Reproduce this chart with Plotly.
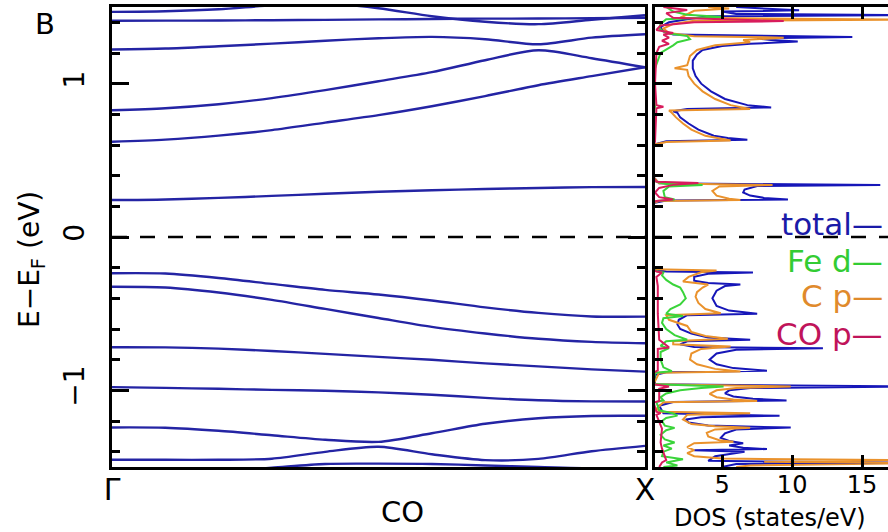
import plotly.graph_objects as go

# ---------------- band structure (Gamma -> X) ----------------
k_nodes = [0.0, 0.1, 0.2, 0.3, 0.4, 0.5, 0.6, 0.7, 0.8, 0.9, 1.0]
k_labels = ["Γ", "X"]

band_A = [1.468, 1.472, 1.485, 1.511, 1.524, 1.492, 1.440, 1.404, 1.388, 1.417, 1.446]
band_B = [1.410, 1.411, 1.412, 1.414, 1.416, 1.419, 1.422, 1.424, 1.425, 1.427, 1.430]
band_C = [1.223, 1.229, 1.244, 1.261, 1.280, 1.296, 1.305, 1.290, 1.257, 1.300, 1.322]
band_D = [0.827, 0.840, 0.866, 0.906, 0.958, 1.016, 1.075, 1.153, 1.218, 1.166, 1.107]
band_E = [0.621, 0.635, 0.661, 0.697, 0.746, 0.795, 0.853, 0.919, 0.990, 1.049, 1.107]
band_F = [0.241, 0.245, 0.255, 0.268, 0.282, 0.295, 0.305, 0.313, 0.320, 0.325, 0.326]
band_G = [-0.236, -0.238, -0.267, -0.306, -0.345, -0.375, -0.414, -0.459, -0.495, -0.518, -0.519]
band_H = [-0.324, -0.329, -0.362, -0.410, -0.469, -0.528, -0.586, -0.629, -0.664, -0.684, -0.693]
band_I = [-0.719, -0.720, -0.728, -0.743, -0.762, -0.782, -0.801, -0.824, -0.844, -0.863, -0.878]
band_J = [-0.979, -0.984, -0.990, -0.997, -1.003, -1.013, -1.029, -1.049, -1.065, -1.072, -1.073]
band_K = [-1.242, -1.244, -1.264, -1.293, -1.322, -1.336, -1.280, -1.218, -1.182, -1.167, -1.166]
band_L = [-1.453, -1.453, -1.453, -1.446, -1.401, -1.368, -1.417, -1.455, -1.447, -1.397, -1.362]
band_M = [-1.560, -1.550, -1.530, -1.505, -1.480, -1.478, -1.480, -1.490, -1.500, -1.510, -1.530]

# ---------------- density of states ----------------
total_E = [1.50, 1.49, 1.478, 1.47, 1.455, 1.447, 1.44, 1.42, 1.40, 1.37,
           1.34, 1.32, 1.305, 1.295, 1.285, 1.275, 1.26, 1.245, 1.22, 1.19,
           1.15, 1.10, 1.05, 1.00, 0.95, 0.90, 0.86, 0.845, 0.835, 0.82,
           0.81, 0.78, 0.74, 0.70, 0.66, 0.645, 0.635, 0.625, 0.60, 0.40,
           0.35, 0.339, 0.333, 0.31, 0.29, 0.27, 0.255, 0.245, 0.238, 0.22,
           -0.21, -0.225, -0.232, -0.24, -0.26, -0.285, -0.30, -0.31, -0.32, -0.35,
           -0.40, -0.45, -0.48, -0.50, -0.51, -0.54, -0.57, -0.60, -0.63, -0.655,
           -0.67, -0.68, -0.70, -0.718, -0.725, -0.735, -0.76, -0.80, -0.83, -0.855,
           -0.872, -0.882, -0.90, -0.96, -0.975, -0.985, -1.00, -1.02, -1.04, -1.055,
           -1.066, -1.076, -1.10, -1.15, -1.166, -1.175, -1.19, -1.21, -1.23, -1.243,
           -1.255, -1.28, -1.31, -1.33, -1.345, -1.36, -1.375, -1.383, -1.39, -1.40,
           -1.43, -1.46, -1.472, -1.48, -1.50]
total_D = [6.0, 8.0, 10.5, 5.0, 6.0, 18.0, 4.0, 2.5, 1.2, 0.6,
           0.8, 1.5, 14.3, 7.5, 8.5, 10.4, 7.0, 5.0, 3.6, 3.2,
           2.9, 2.9, 3.1, 3.5, 4.2, 5.2, 6.8, 8.5, 2.5, 1.5,
           1.8, 2.0, 2.6, 3.3, 4.4, 5.4, 6.8, 1.0, 0.0, 0.0,
           0.5, 16.3, 7.5, 6.6, 6.5, 7.0, 8.0, 9.7, 1.0, 0.0,
           0.0, 1.0, 7.2, 4.0, 3.0, 3.0, 4.0, 6.3, 5.2, 4.6,
           4.3, 4.6, 5.5, 7.5, 2.5, 1.9, 1.8, 2.0, 2.8, 4.0,
           7.0, 2.5, 2.0, 3.0, 12.2, 6.0, 4.6, 4.1, 4.6, 5.8,
           8.2, 1.0, 0.2, 0.2, 18.0, 7.0, 5.5, 5.2, 5.8, 7.2,
           9.6, 1.5, 0.5, 0.8, 9.1, 3.5, 2.4, 2.6, 4.0, 9.9,
           6.0, 5.2, 4.9, 5.5, 6.5, 5.5, 6.5, 8.2, 3.0, 6.6,
           4.5, 4.0, 18.0, 6.0, 5.0]

fed_E = [1.50, 1.47, 1.45, 1.435, 1.42, 1.39, 1.36, 1.33, 1.31, 1.29,
         1.27, 1.25, 1.20, 1.10, 0.95, 0.85, 0.80, 0.70, 0.63, 0.60,
         0.40, 0.36, 0.345, 0.339, 0.33, 0.30, 0.26, 0.245, 0.235, 0.22,
         -0.21, -0.225, -0.232, -0.25, -0.28, -0.31, -0.33, -0.36, -0.40, -0.44,
         -0.47, -0.50, -0.515, -0.53, -0.56, -0.60, -0.64, -0.67, -0.68, -0.71,
         -0.725, -0.75, -0.80, -0.85, -0.875, -0.885, -0.96, -0.975, -0.985, -1.00,
         -1.02, -1.045, -1.065, -1.076, -1.13, -1.15, -1.165, -1.18, -1.20, -1.23,
         -1.245, -1.26, -1.29, -1.32, -1.34, -1.36, -1.38, -1.40, -1.43, -1.45,
         -1.47, -1.49, -1.50]
fed_D = [1.0, 1.5, 2.5, 5.0, 1.0, 0.6, 0.5, 1.0, 2.5, 2.7,
         1.8, 1.5, 0.6, 0.2, 0.1, 0.2, 0.1, 0.1, 0.2, 0.0,
         0.0, 0.3, 1.0, 3.6, 1.2, 0.8, 0.9, 1.6, 0.3, 0.0,
         0.0, 0.4, 0.8, 0.7, 1.0, 1.5, 2.0, 2.2, 2.4, 2.0,
         1.3, 1.0, 2.2, 0.8, 0.7, 1.0, 1.6, 2.5, 1.0, 0.6,
         1.2, 0.6, 0.6, 0.8, 1.4, 0.2, 0.1, 5.1, 3.5, 2.0,
         1.0, 0.6, 0.8, 0.3, 0.5, 1.5, 1.8, 1.0, 0.7, 0.9,
         1.6, 1.0, 0.6, 0.9, 1.6, 0.8, 1.4, 0.8, 0.7, 2.2,
         1.0, 1.8, 0.8]

cp_E = [1.50, 1.49, 1.475, 1.45, 1.43, 1.418, 1.41, 1.39, 1.36, 1.33,
        1.31, 1.30, 1.285, 1.27, 1.25, 1.22, 1.18, 1.15, 1.12, 1.10,
        1.09, 1.05, 1.00, 0.95, 0.90, 0.86, 0.835, 0.825, 0.81, 0.78,
        0.74, 0.70, 0.66, 0.63, 0.62, 0.60, 0.40, 0.35, 0.339, 0.33,
        0.30, 0.27, 0.25, 0.241, 0.235, 0.22, -0.21, -0.219, -0.23, -0.26,
        -0.29, -0.31, -0.33, -0.36, -0.39, -0.43, -0.47, -0.497, -0.51, -0.54,
        -0.58, -0.62, -0.645, -0.664, -0.68, -0.70, -0.714, -0.73, -0.76, -0.80,
        -0.83, -0.86, -0.877, -0.885, -0.96, -0.975, -0.985, -1.00, -1.023, -1.045,
        -1.06, -1.07, -1.078, -1.12, -1.14, -1.149, -1.16, -1.19, -1.22, -1.235,
        -1.244, -1.255, -1.277, -1.30, -1.325, -1.336, -1.345, -1.37, -1.39, -1.41,
        -1.43, -1.445, -1.455, -1.465, -1.475, -1.49, -1.50]
cp_D = [4.0, 5.5, 3.0, 2.5, 2.0, 18.0, 3.0, 1.5, 0.8, 1.2,
        3.0, 9.4, 6.5, 7.0, 4.5, 3.2, 2.7, 2.6, 2.5, 1.6,
        2.5, 2.6, 3.0, 3.6, 4.5, 5.6, 7.0, 1.2, 1.4, 1.7,
        2.2, 2.8, 3.8, 5.6, 1.0, 0.0, 0.0, 0.5, 8.6, 4.8,
        4.3, 4.6, 5.5, 6.3, 0.5, 0.0, 0.0, 4.6, 3.5, 2.6,
        2.2, 4.0, 3.6, 3.2, 3.1, 3.3, 3.8, 4.9, 1.0, 1.2,
        2.5, 2.8, 3.8, 5.4, 1.5, 1.5, 5.6, 3.5, 2.8, 2.7,
        3.2, 4.5, 6.3, 0.5, 0.1, 9.9, 6.0, 4.6, 4.1, 4.6,
        5.8, 7.5, 0.8, 0.3, 0.6, 7.0, 2.5, 2.2, 2.8, 4.5,
        7.0, 4.5, 3.9, 4.0, 4.8, 5.8, 3.0, 2.5, 3.0, 2.5,
        3.0, 5.0, 18.0, 8.0, 18.0, 7.0, 6.0]

cop_E = [1.50, 1.48, 1.46, 1.43, 1.408, 1.40, 1.38, 1.35, 1.33, 1.32,
         1.30, 1.28, 1.26, 1.24, 1.20, 1.00, 0.86, 0.85, 0.84, 0.62,
         0.60, 0.40, 0.36, 0.352, 0.34, 0.32, 0.29, 0.26, 0.245, 0.235,
         0.22, -0.21, -0.225, -0.232, -0.26, -0.32, -0.50, -0.67, -0.72, -0.73,
         -0.87, -0.885, -0.96, -0.975, -0.99, -1.07, -1.08, -1.14, -1.149, -1.16,
         -1.25, -1.34, -1.38, -1.455, -1.47, -1.50]
cop_D = [0.8, 2.5, 1.0, 1.5, 9.4, 3.0, 0.6, 0.3, 1.5, 0.8,
         1.2, 0.7, 1.2, 0.5, 0.3, 0.2, 0.3, 0.8, 0.3, 0.2,
         0.0, 0.0, 0.3, 3.3, 1.5, 0.5, 0.2, 0.5, 1.5, 0.3,
         0.0, 0.0, 0.3, 0.7, 0.3, 0.4, 0.4, 0.5, 1.2, 0.4,
         0.4, 0.1, 0.1, 1.2, 0.5, 0.5, 0.1, 0.3, 0.6, 0.3,
         0.7, 0.6, 0.7, 1.0, 0.7, 0.5]

legend_names = ["total", "Fe d", "C p", "CO p"]
energy_ticks = [-1, 0, 1]
energy_ticktext = ["−1", "0", "1"]
dos_ticks = [5, 10, 15]

# ---------------- styling ----------------
FONT = "DejaVu Sans"
BAND_COLOR = "#2424a4"
COLORS = {"total": "#1616b8", "Fe d": "#3ad43a", "C p": "#ea922c", "CO p": "#d81c5c"}
TEXT_COLORS = {"total": "#1a1aa8", "Fe d": "#33cc33", "C p": "#e08a2c", "CO p": "#c0145a"}

W, H = 888, 532
def px(x):
    return x / W
def py(y):
    return 1 - y / H

Y_DOM = [py(467), py(7)]
X1_DOM = [px(112), px(645)]
X2_DOM = [px(655), 1.0]

fig = go.Figure()

for b in [band_A, band_B, band_C, band_D, band_E, band_F, band_G,
          band_H, band_I, band_J, band_K, band_L, band_M]:
    fig.add_trace(go.Scatter(
        x=k_nodes, y=b, mode="lines", xaxis="x", yaxis="y",
        line=dict(color=BAND_COLOR, width=2.4, shape="spline", smoothing=0.8),
        showlegend=False, hoverinfo="skip"))

for name, E, D in [("total", total_E, total_D), ("C p", cp_E, cp_D),
                   ("Fe d", fed_E, fed_D), ("CO p", cop_E, cop_D)]:
    fig.add_trace(go.Scatter(
        x=D, y=E, mode="lines", xaxis="x2", yaxis="y2", name=name,
        line=dict(color=COLORS[name], width=2),
        showlegend=False, hoverinfo="skip"))

axis_common = dict(showgrid=False, zeroline=False, linecolor="black",
                   linewidth=3, tickcolor="black", automargin=False)
minor_y = dict(ticks="inside", ticklen=8, tickwidth=2.5, tickcolor="black",
               dtick=0.2, tick0=0, showgrid=False)

fig.update_layout(
    width=W, height=H, margin=dict(l=0, r=0, t=0, b=0),
    paper_bgcolor="white", plot_bgcolor="white", template="none",
    font=dict(family=FONT, color="black"), showlegend=False,
    xaxis=dict(domain=X1_DOM, range=[0, 1], anchor="y", showline=True,
               mirror=True, ticks="", tickvals=[0, 1], ticktext=k_labels,
               tickfont=dict(size=30, family=FONT), ticklabelstandoff=-6,
               **axis_common),
    yaxis=dict(domain=Y_DOM, range=[-1.5, 1.5], anchor="x", showline=True,
               mirror="ticks", ticks="inside", ticklen=17, tickwidth=2.5,
               tickvals=energy_ticks, ticktext=energy_ticktext, tickangle=-90,
               tickfont=dict(size=28, family=FONT), ticklabelstandoff=14,
               minor=minor_y, **axis_common),
    xaxis2=dict(domain=X2_DOM, range=[0.2, 16.85], anchor="y2", showline=True,
                mirror="ticks", ticks="inside", ticklen=12, tickwidth=2.5,
                tickvals=dos_ticks, tickfont=dict(size=24, family=FONT),
                ticklabelstandoff=-6, **axis_common),
    yaxis2=dict(domain=Y_DOM, range=[-1.5, 1.5], anchor="x2", showline=True,
                mirror=False, ticks="inside", ticklen=17, tickwidth=2.5,
                tickvals=energy_ticks, showticklabels=False, minor=minor_y,
                **axis_common),
    yaxis3=dict(range=[-1.5, 1.5], anchor="x2", overlaying="y2", side="right",
                showline=False, ticks="inside", ticklen=17, tickwidth=2.5,
                tickvals=energy_ticks, showticklabels=False, minor=minor_y,
                showgrid=False, zeroline=False, tickcolor="black", automargin=False),
)

# Fermi level (E = 0) dashed line on both panels
for xr, yr in [("x domain", "y"), ("x2 domain", "y2")]:
    fig.add_shape(type="line", xref=xr, yref=yr, x0=0, x1=1, y0=0, y1=0,
                  line=dict(color="black", width=2.5, dash="15px,13px"), layer="above")

annotations = [
    dict(text="B", x=px(45), y=py(24), font=dict(size=29)),
    dict(text="E−E<sub>F</sub> (eV)", x=px(31), y=py(260), textangle=-90,
         font=dict(size=28)),
    dict(text="CO", x=px(402), y=py(512), font=dict(size=29)),
    dict(text="DOS (states/eV)", x=px(770), y=py(518), font=dict(size=24)),
]
legend_y = [224, 261, 296, 334]
for name, yy in zip(legend_names, legend_y):
    annotations.append(dict(text=name + "—", x=px(885), y=py(yy), xanchor="right",
                            font=dict(size=31, color=TEXT_COLORS[name])))
for a in annotations:
    a.setdefault("xanchor", "center")
    a.update(xref="paper", yref="paper", yanchor="middle", showarrow=False)
    a["font"].setdefault("family", FONT)
    a["font"].setdefault("color", "black")
fig.update_layout(annotations=annotations)

fig.write_html("out.html")
